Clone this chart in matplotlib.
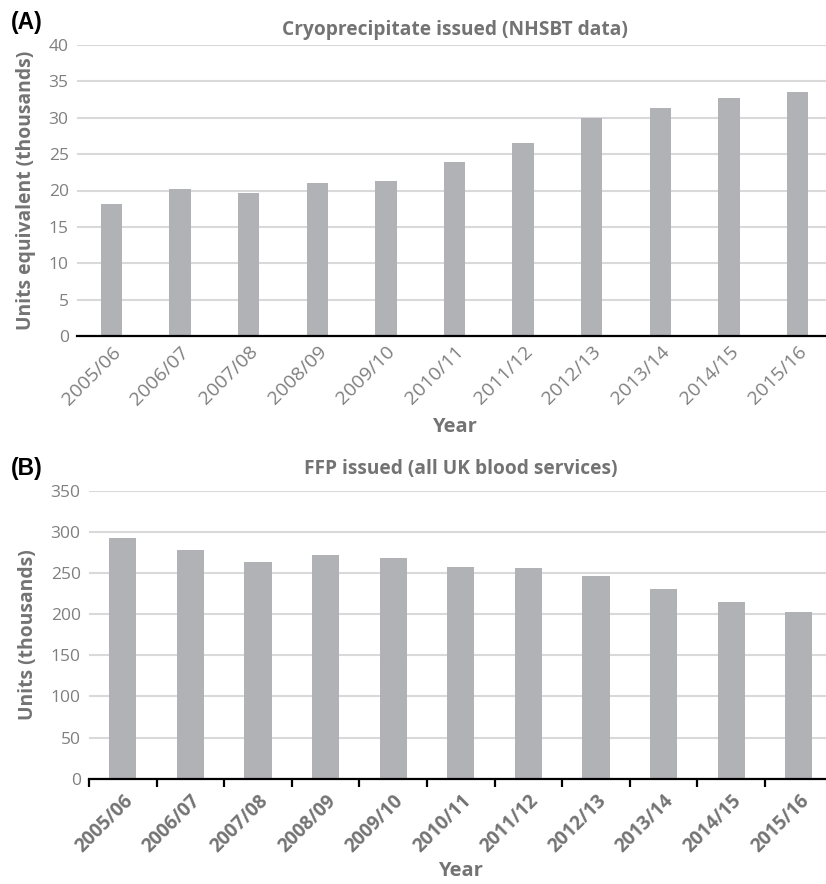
import matplotlib
matplotlib.use("Agg")
import matplotlib.pyplot as plt
import numpy as np

plt.rcParams.update({"font.family": "Open Sans", "font.size": 12})
BAR = "#B1B2B6"; GRID = "#D9D9D9"; TXT = "#7F7F7F"; BTXT = "#737373"

years = ["2005/06", "2006/07", "2007/08", "2008/09", "2009/10", "2010/11",
         "2011/12", "2012/13", "2013/14", "2014/15", "2015/16"]
cryo = [18.2, 20.2, 19.6, 21.0, 21.3, 23.9, 26.5, 30.0, 31.4, 32.7, 33.5]
ffp = [292.5, 278.3, 263.3, 271.8, 268.2, 257.3, 256.0, 246.3, 230.9, 215.1, 203.0]

W, H = 826, 884
fig = plt.figure(figsize=(W / 100, H / 100), dpi=100)

def px_axes(l, t, r, b):
    return fig.add_axes([l / W, 1 - b / H, (r - l) / W, (b - t) / H])

def style(ax, ymax, step):
    x = np.arange(len(years))
    ax.set_xlim(-0.5, len(years) - 0.5)
    ax.set_ylim(0, ymax)
    ax.set_yticks(np.arange(0, ymax + 1, step))
    ax.yaxis.grid(True, color=GRID, linewidth=1.5)
    ax.set_axisbelow(True)
    for s in ["top", "right", "left"]:
        ax.spines[s].set_visible(False)
    ax.spines["bottom"].set_linewidth(1.6)
    ax.spines["bottom"].set_color("black")
    ax.tick_params(axis="y", length=0, labelsize=12.5, labelcolor=TXT, pad=6)
    ax.set_xticks(x)
    return x

# (A) cryoprecipitate
axA = px_axes(77, 45, 832, 336)
x = style(axA, 40, 5)
axA.bar(x, cryo, width=0.31, color=BAR)
axA.set_xticklabels(years, rotation=45, ha="right", rotation_mode="anchor",
                    fontsize=14, color=TXT)
axA.tick_params(axis="x", length=0, pad=5)
axA.set_title("Cryoprecipitate issued (NHSBT data)", fontsize=13.8, fontweight="bold",
              color=BTXT, pad=7)
axA.set_ylabel("Units equivalent (thousands)", fontsize=13.9, fontweight="bold",
               color=BTXT, labelpad=9)
axA.set_xlabel("Year", fontsize=14.5, fontweight="bold", color=BTXT, labelpad=6)
fig.text(11 / W, 1 - 22 / H, "(A)", fontsize=16.5, fontweight="bold",
         family="Liberation Sans", va="center", ha="left")

# (B) FFP
axB = px_axes(89, 490.7, 832.6, 778.7)
x = style(axB, 350, 50)
axB.bar(x, ffp, width=0.4, color=BAR)
axB.set_xticklabels(years, rotation=45, ha="right", rotation_mode="anchor",
                    fontsize=13.7, fontweight="bold", color=BTXT)
axB.tick_params(axis="x", which="major", length=0, pad=9)
axB.set_xticks(np.arange(-0.5, len(years) - 0.5, 1), minor=True)
axB.tick_params(axis="x", which="minor", length=6, width=1.6, color="black")
axB.set_title("FFP issued (all UK blood services)", fontsize=13.8, fontweight="bold",
              color=BTXT, pad=12)
axB.set_ylabel("Units (thousands)", fontsize=13.9, fontweight="bold",
               color=BTXT, labelpad=9)
axB.set_xlabel("Year", fontsize=14.5, fontweight="bold", color=BTXT, labelpad=3)
fig.text(11 / W, 1 - 469 / H, "(B)", fontsize=16.5, fontweight="bold",
         family="Liberation Sans", va="center", ha="left")

fig.savefig("out.png", dpi=100)
